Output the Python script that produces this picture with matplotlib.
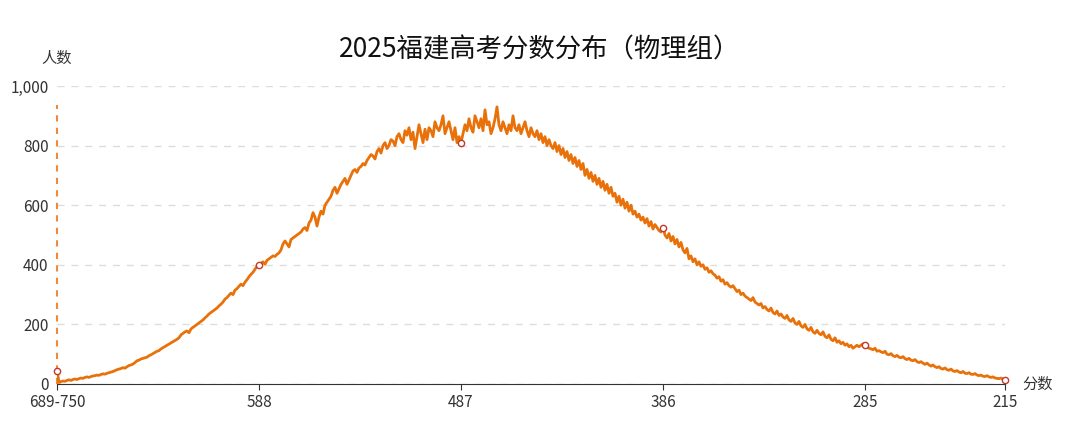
import matplotlib
matplotlib.use("Agg")
import matplotlib.pyplot as plt
from matplotlib.ticker import FuncFormatter

plt.rcParams['font.family'] = ['Noto Sans CJK SC', 'DejaVu Sans']

categories = ["689-750"] + [str(s) for s in range(688, 214, -1)]
counts = [45,
5,8,10,9,12,14,12,15,17,15,
18,20,19,22,24,22,25,27,28,30,
29,32,34,33,36,38,40,42,45,48,
50,52,55,53,58,62,64,67,72,78,
80,84,86,88,90,95,98,102,106,110,
112,118,122,126,130,134,138,142,146,150,
155,165,170,175,178,172,185,190,195,200,
205,210,215,222,228,235,240,245,250,255,
262,268,275,285,290,298,305,300,315,320,
328,335,330,342,350,360,368,375,385,395,
400,405,410,402,415,420,425,430,428,435,
440,450,470,480,470,460,485,490,495,500,
505,510,520,525,515,540,550,575,560,530,
560,580,570,600,610,620,630,650,660,640,
655,670,680,690,670,685,700,715,720,710,
725,730,740,735,750,760,770,765,755,780,
790,775,800,810,790,800,820,815,800,830,
840,820,810,850,835,860,820,845,790,830,
870,840,810,855,820,860,850,830,880,860,
850,870,900,840,860,880,850,820,860,810,
830,810,840,870,850,890,860,845,900,880,
860,890,850,920,870,880,840,860,890,930,
870,850,880,860,840,870,850,900,860,850,
870,840,860,880,850,830,860,840,830,850,
820,840,810,830,800,820,800,790,810,780,
800,770,790,760,780,750,770,740,760,730,
750,720,740,700,720,690,710,680,700,670,
690,660,680,650,670,640,660,630,640,610,
630,600,620,590,610,580,600,570,580,560,
570,550,560,540,555,530,545,520,535,525,
515,510,525,500,490,505,480,495,470,485,
460,475,450,440,455,420,430,410,420,400,
410,395,400,385,390,375,380,370,365,355,
360,345,350,335,340,330,325,330,320,310,
315,300,305,295,290,285,280,290,275,270,
265,270,255,260,250,245,255,240,235,245,
230,235,225,220,230,215,210,220,205,200,
210,195,190,200,185,180,190,175,170,180,
170,165,175,160,155,165,150,145,155,140,
145,135,140,130,135,125,130,120,125,130,
125,130,135,130,125,120,118,115,120,110,
112,108,105,110,100,98,102,95,92,96,
90,88,92,85,82,86,80,78,82,75,
72,75,70,66,70,64,60,64,58,55,
58,52,50,54,48,46,50,44,42,45,
40,38,42,36,35,38,33,32,35,30,
28,30,26,25,28,24,22,24,20,19,
18,20,16,15]
tick_labels = ["689-750", "588", "487", "386", "285", "215"]
title = "2025福建高考分数分布（物理组）"

fig = plt.figure(figsize=(10.8, 4.37), dpi=100)
ax = fig.add_axes([57/1080, 53/437, 948/1080, 298/437])
x = list(range(len(categories)))
color = "#e8710a"
ax.plot(x, counts, color=color, lw=2, zorder=3)
mk = [categories.index(t) for t in tick_labels]
ax.plot(mk, [counts[i] for i in mk], 'o', ms=4.5, mfc='white', mec='#c0392b', mew=1, zorder=4, clip_on=False)
ax.plot([0, 0], [0, 935], ls=(0, (3, 3)), color='#ee8a3a', lw=1.5, zorder=2, clip_on=False)

ax.set_xlim(0, len(categories) - 1)
ax.set_ylim(0, 1000)
ax.set_xticks(mk)
ax.set_xticklabels(tick_labels, fontsize=11, color='#333')
ax.set_yticks([0, 200, 400, 600, 800, 1000])
ax.yaxis.set_major_formatter(FuncFormatter(lambda v, p: f"{int(v):,}"))
ax.tick_params(axis='y', length=0, labelsize=11, labelcolor='#333', pad=6)
ax.tick_params(axis='x', length=4, color='#333')
ax.grid(axis='y', ls=(0, (5, 5)), color='#dddddd', lw=1)
for s in ['top', 'right', 'left']:
    ax.spines[s].set_visible(False)
ax.spines['bottom'].set_color('#333')
ax.set_axisbelow(True)
fig.text(0.5, 1 - 50/437, title, ha='center', va='center', fontsize=19, color='#111')
fig.text(57/1080, 1 - 58/437, "人数", ha='center', va='center', fontsize=11, color='#333')
fig.text(1022/1080, 53/437, "分数", ha='left', va='center', fontsize=11, color='#333')
fig.savefig("out.png", dpi=100)
